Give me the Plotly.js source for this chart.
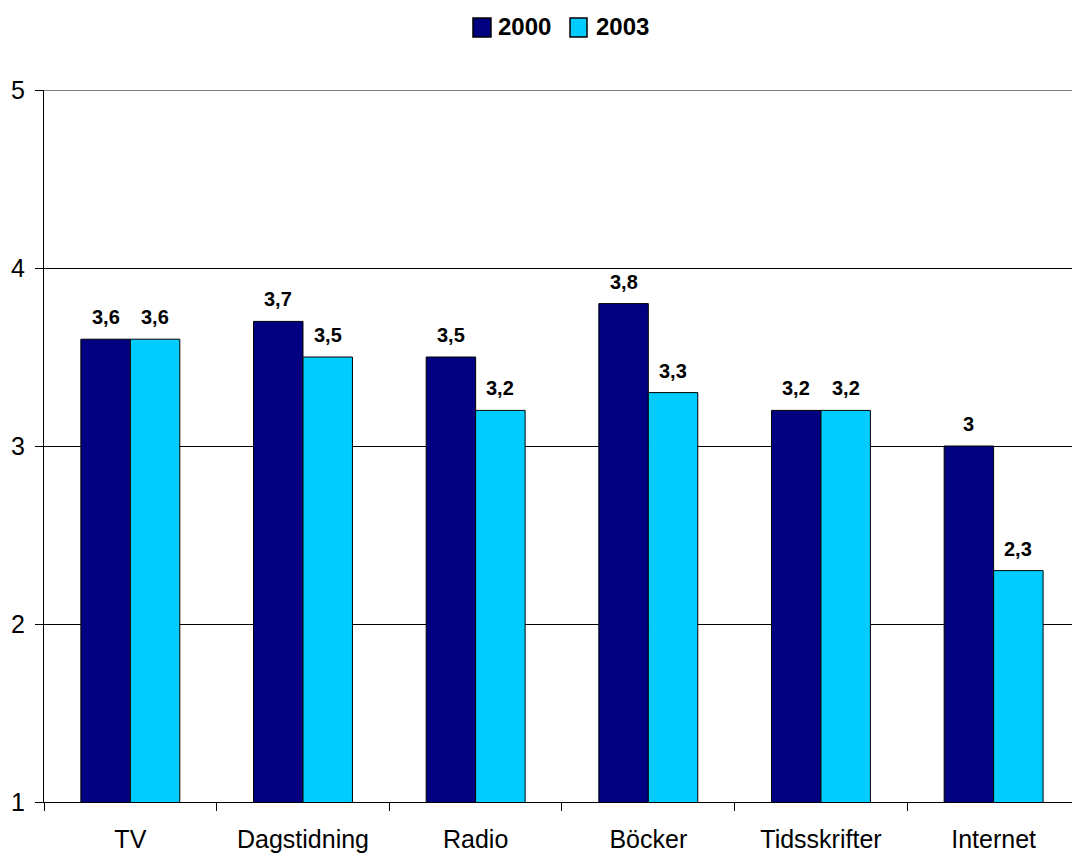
<!DOCTYPE html>
<html><head><meta charset="utf-8">
<script src="https://cdn.plot.ly/plotly-3.0.1.min.js"></script>
<style>html,body{margin:0;padding:0;overflow:hidden;background:#fff}</style>
</head><body><div id="chart" style="width:1072px;height:856px"></div>
<script>
const categories = ["TV", "Dagstidning", "Radio", "Böcker", "Tidsskrifter", "Internet"];
const values2000 = [3.6, 3.7, 3.5, 3.8, 3.2, 3.0];
const values2003 = [3.6, 3.5, 3.2, 3.3, 3.2, 2.3];
const seriesNames = ["2000", "2003"];
const seriesColors = ["#000080", "#00CCFF"];
const yTicks = [1, 2, 3, 4, 5];

const font = "Liberation Sans, Arial, sans-serif";
const traces = [values2000, values2003].map((vals, s) => ({
  type: "bar", name: seriesNames[s], x: categories, y: vals, showlegend: false,
  marker: {color: seriesColors[s], line: {color: "#000", width: 1}}, hoverinfo: "none"
}));
const fmt = v => String(v).replace(".", ",");
const annotations = [];
[values2000, values2003].forEach((vals, s) => {
  vals.forEach((v, i) => {
    annotations.push({x: categories[i], y: v, text: fmt(v), showarrow: false,
      xref: "x", yref: "y", xshift: s === 0 ? -24.75 : 24.75, yshift: 9,
      yanchor: "bottom", font: {family: font, size: 20, color: "#000", weight: "bold"}});
  });
});
// custom legend (paper coordinates)
const shapes = [];
const legendSq = [[0.4173, 0.4348], [0.5117, 0.5282]];
const legendTx = [0.4398, 0.5351];
seriesNames.forEach((n, s) => {
  shapes.push({type: "rect", xref: "paper", yref: "paper", x0: legendSq[s][0], x1: legendSq[s][1],
    y0: 1.0744, y1: 1.1011, fillcolor: seriesColors[s], line: {color: "#000", width: 1.5}});
  annotations.push({xref: "paper", yref: "paper", x: legendTx[s], y: 1.0885, text: n,
    showarrow: false, xanchor: "left", yanchor: "middle",
    font: {family: font, size: 24, color: "#000", weight: "bold"}});
});
// top gridline at 5
shapes.push({type: "line", xref: "paper", yref: "y", x0: 0, x1: 1, y0: 5, y1: 5,
  line: {color: "#000", width: 1}});
const layout = {
  width: 1072, height: 856,
  margin: {l: 44, r: 0, t: 90, b: 54},
  paper_bgcolor: "#fff", plot_bgcolor: "#fff",
  barmode: "group", bargap: 0.427, bargroupgap: 0,
  separators: ", ",
  font: {family: font, color: "#000"},
  showlegend: false,
  xaxis: {type: "category", range: [-0.5, 5.454], tickson: "boundaries", ticks: "outside",
    ticklen: 8, tickcolor: "#000", showline: true, linecolor: "#000", linewidth: 1,
    showgrid: false, tickfont: {family: font, size: 25, color: "#000"}, ticklabelstandoff: 15},
  yaxis: {range: [1, 5], tickvals: yTicks, ticktext: yTicks.map(String), ticks: "outside",
    ticklen: 8, tickcolor: "#000", showline: true, linecolor: "#000", linewidth: 1,
    showgrid: true, gridcolor: "#000", gridwidth: 1, zeroline: false, ticklabelstandoff: 5,
    tickfont: {family: font, size: 25, color: "#000"}},
  annotations: annotations,
  shapes: shapes
};
Plotly.newPlot("chart", traces, layout, {displayModeBar: false, staticPlot: true});
</script></body></html>
